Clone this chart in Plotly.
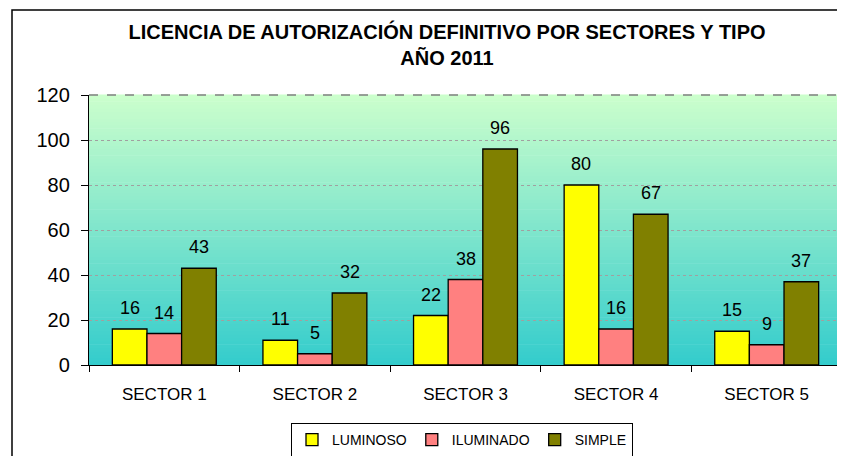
import plotly.graph_objects as go

categories = ["SECTOR 1", "SECTOR 2", "SECTOR 3", "SECTOR 4", "SECTOR 5"]
luminoso = [16, 11, 22, 80, 15]
iluminado = [14, 5, 38, 16, 9]
simple = [43, 32, 96, 67, 37]
series_names = ["LUMINOSO", "ILUMINADO", "SIMPLE"]
series_colors = ["#FFFF00", "#FF8080", "#808000"]
y_ticks = [0, 20, 40, 60, 80, 100, 120]

W, H = 845, 456
OFF = 8  # page body margin offset
# target screen positions of plot area
SX0, SX1, SY0, SY1 = 89, 842, 95, 365
L = SX0 - OFF
R = W - (SX1 - OFF)
T = SY0 - OFF
B = H - (SY1 - OFF)
pw, ph = W - L - R, H - T - B

def px_x(p):
    return (p - OFF - L) / pw

def px_y(p):
    return (H - B - (p - OFF)) / ph

fig = go.Figure()
series = [luminoso, iluminado, simple]
for name, vals, col in zip(series_names, series, series_colors):
    fig.add_trace(go.Bar(
        x=categories, y=vals, name=name,
        marker=dict(color=col, line=dict(color="black", width=1.3)),
    ))

bargap = 0.31
cat_px = pw / len(categories)
bar_px = cat_px * (1 - bargap) / 3
annotations = []
for i, vals in enumerate(series):
    for c, v in zip(categories, vals):
        annotations.append(dict(
            x=c, y=v, xref="x", yref="y", text=str(v), showarrow=False,
            xshift=(i - 1) * bar_px, yshift=9, yanchor="bottom",
            font=dict(family="Liberation Sans, Arial", size=18, color="black"),
        ))

# gradient background
shapes = []
n = 80
top = (0xCC, 0xFF, 0xCC)
bot = (0x33, 0xCC, 0xCC)
for k in range(n):
    t = (k + 0.5) / n
    c = tuple(round(bot[j] + (top[j] - bot[j]) * t) for j in range(3))
    shapes.append(dict(
        type="rect", xref="x domain", yref="y domain",
        x0=0, x1=1, y0=k / n, y1=(k + 1) / n + 0.002,
        fillcolor="rgb(%d,%d,%d)" % c, line=dict(width=0), layer="below",
    ))
shapes.append(dict(type="line", xref="paper", yref="paper", x0=0, x1=1, y0=1, y1=1,
                   line=dict(color="#808080", width=1.3, dash="dash")))
shapes.append(dict(type="line", xref="paper", yref="paper", x0=1, x1=1, y0=0, y1=1,
                   line=dict(color="#808080", width=1.3, dash="dash")))
# outer chart border
shapes.append(dict(type="rect", xref="paper", yref="paper",
                   x0=px_x(12), x1=px_x(W + 30), y0=px_y(H + 30), y1=px_y(10),
                   line=dict(color="black", width=1.5), fillcolor="rgba(0,0,0,0)"))

fig.update_layout(
    width=W, height=H,
    margin=dict(l=L, r=R, t=T, b=B, autoexpand=False),
    paper_bgcolor="white", plot_bgcolor="rgba(0,0,0,0)",
    barmode="group", bargap=bargap, bargroupgap=0,
    font=dict(family="Liberation Sans, Arial", color="black"),
    title=dict(
        text="<b>LICENCIA DE AUTORIZACIÓN DEFINITIVO POR SECTORES Y TIPO<br>AÑO 2011</b>",
        x=(447 - OFF) / W, xref="container", xanchor="center",
        y=1 - (39 - OFF) / H, yref="container", yanchor="top",
        font=dict(size=20, family="Liberation Sans, Arial", color="black"),
    ),
    showlegend=True,
    legend=dict(
        orientation="h", x=px_x(462), xanchor="center", y=px_y(423), yanchor="top",
        bordercolor="black", borderwidth=1, bgcolor="white",
        font=dict(size=14, family="Liberation Sans, Arial"),
        traceorder="normal", itemwidth=30, tracegroupgap=0,
    ),
    annotations=annotations,
    shapes=shapes,
)
fig.update_xaxes(
    type="category", showline=True, linecolor="black", linewidth=1.3,
    ticks="outside", tickson="boundaries", ticklen=6, tickcolor="black",
    tickfont=dict(size=17), showgrid=False, ticklabelstandoff=13,
)
fig.update_yaxes(
    range=[0, 120], tickvals=y_ticks, showline=True, linecolor="black", linewidth=1.3,
    ticks="outside", ticklen=7, tickcolor="black", tickfont=dict(size=20),
    showgrid=True, gridcolor="#A0A0A0", griddash="dot", gridwidth=1,
    zeroline=False, ticklabelstandoff=7,
)

fig.write_html("out.html")
